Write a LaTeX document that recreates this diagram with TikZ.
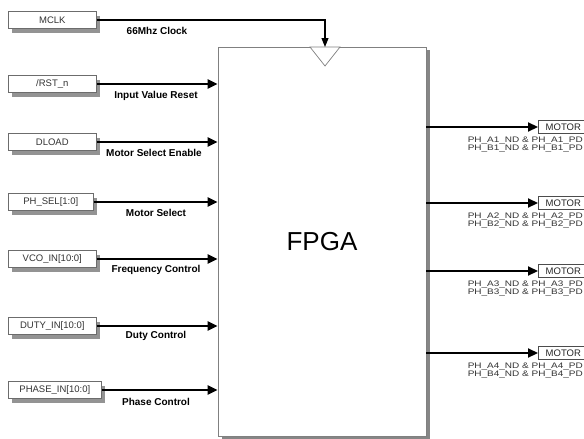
\documentclass[tikz,border=0pt]{standalone}
\usepackage{fontspec}
\setmainfont{Liberation Sans}
\newfontfamily\widesans[FakeStretch=1.25]{Liberation Sans}
\usetikzlibrary{arrows.meta,shadows}

\begin{document}
\begin{tikzpicture}[x=1pt, y=-1pt,
    inport/.style={draw=gray!85!black, fill=white, line width=0.6pt, anchor=west,
      minimum width=88pt, minimum height=17pt, inner sep=2pt, text=black!80,
      font=\fontsize{9.5}{10}\selectfont,
      drop shadow={shadow xshift=4pt, shadow yshift=-4pt, fill=gray!85, opacity=1}},
    siglbl/.style={font=\bfseries\fontsize{10}{10}\selectfont},
    sig/.style={line width=2.2pt, -{Triangle[length=10pt,width=9pt]}},
    motor/.style={draw=black!70, fill=white, line width=0.6pt, anchor=west,
      minimum width=50pt, minimum height=13pt, inner sep=1pt, text=black!85,
      font=\fontsize{9.5}{10}\selectfont},
    phlbl/.style={align=right, anchor=north east, inner sep=0pt, text=black!80,
      font=\widesans\fontsize{8}{8}\selectfont}]
  \useasboundingbox (0,0) rectangle (584,439);

  % FPGA block with clock input
  \node[draw=gray, line width=0.8pt, fill=white, minimum width=208pt, minimum height=389pt,
    drop shadow={shadow xshift=4pt, shadow yshift=-3pt, fill=gray!95, opacity=1},
    font=\fontsize{26}{28}\selectfont] (fpga) at (322,241.5) {FPGA};
  \coordinate (clk) at (325,47);
  \draw[gray, line width=0.7pt, fill=white] (clk) ++(-15,0) -- ++(30,0) -- ++(-15,19) -- cycle;

  % inputs
  \node[inport] (mclk) at (8,20) {MCLK};
  \node[inport] (rst) at (8,84) {/RST\_n};
  \node[inport] (dload) at (8,142) {DLOAD};
  \node[inport, minimum width=85pt] (phsel) at (8,202) {PH\_SEL[1:0]};
  \node[inport] (vco) at (8,259) {VCO\_IN[10:0]};
  \node[inport] (duty) at (8,326) {DUTY\_IN[10:0]};
  \node[inport, minimum width=93pt] (phase) at (8,390) {PHASE\_IN[10:0]};

  \draw[line width=1.1pt, -{Triangle[length=9pt,width=7pt]}] (mclk.east) -| (clk);
  \draw[sig] (rst.east) -- (rst.east -| fpga.west);
  \draw[sig] (dload.east) -- (dload.east -| fpga.west);
  \draw[sig] (phsel.east) -- (phsel.east -| fpga.west);
  \draw[sig] (vco.east) -- (vco.east -| fpga.west);
  \draw[sig] (duty.east) -- (duty.east -| fpga.west);
  \draw[sig] (phase.east) -- (phase.east -| fpga.west);

  \node[siglbl] (lclk) at (157,31) {66Mhz Clock};
  \node[siglbl] (lrst) at (156,96) {Input Value Reset};
  \node[siglbl] (ldload) at (154,153) {Motor Select Enable};
  \node[siglbl] (lphsel) at (156,213) {Motor Select};
  \node[siglbl] (lvco) at (156,270) {Frequency Control};
  \node[siglbl] (lduty) at (156,336) {Duty Control};
  \node[siglbl] (lphase) at (156,402) {Phase Control};

  % motor outputs
  \node[motor] (m1) at (538,127) {MOTOR};
  \node[motor] (m2) at (538,203) {MOTOR};
  \node[motor] (m3) at (538,271) {MOTOR};
  \node[motor] (m4) at (538,353) {MOTOR};
  \draw[sig] (fpga.east |- m1.west) -- (m1.west);
  \draw[sig] (fpga.east |- m2.west) -- (m2.west);
  \draw[sig] (fpga.east |- m3.west) -- (m3.west);
  \draw[sig] (fpga.east |- m4.west) -- (m4.west);
  \node[phlbl] (p1) at (583,137) {PH\_A1\_ND \& PH\_A1\_PD\\PH\_B1\_ND \& PH\_B1\_PD};
  \node[phlbl] (p2) at (583,213) {PH\_A2\_ND \& PH\_A2\_PD\\PH\_B2\_ND \& PH\_B2\_PD};
  \node[phlbl] (p3) at (583,281) {PH\_A3\_ND \& PH\_A3\_PD\\PH\_B3\_ND \& PH\_B3\_PD};
  \node[phlbl] (p4) at (583,363) {PH\_A4\_ND \& PH\_A4\_PD\\PH\_B4\_ND \& PH\_B4\_PD};
\end{tikzpicture}
\end{document}
